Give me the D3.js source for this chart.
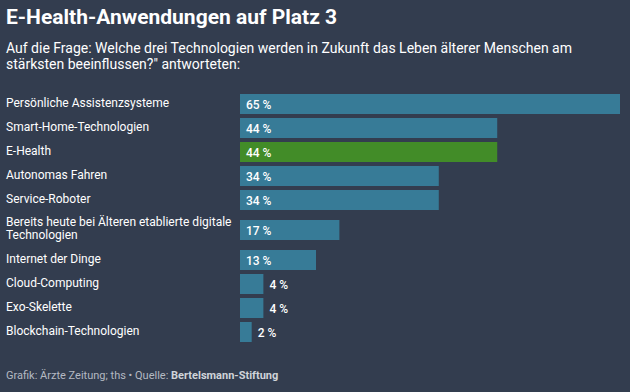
<!DOCTYPE html>
<html><head><meta charset="utf-8">
<script src="https://cdn.jsdelivr.net/npm/d3@7"></script>
<style>
html,body{margin:0;padding:0;background:#333d4f;}
svg{display:block;font-family:Roboto, "Noto Sans", sans-serif;}
</style></head>
<body>
<script>
const categories = [
  ["Persönliche Assistenzsysteme"],
  ["Smart-Home-Technologien"],
  ["E-Health"],
  ["Autonomas Fahren"],
  ["Service-Roboter"],
  ["Bereits heute bei Älteren etablierte digitale", "Technologien"],
  ["Internet der Dinge"],
  ["Cloud-Computing"],
  ["Exo-Skelette"],
  ["Blockchain-Technologien"]
];
const values = [65, 44, 44, 34, 34, 17, 13, 4, 4, 2];
const highlight = ["E-Health"];
const title = "E-Health-Anwendungen auf Platz 3";
const subtitle = ["Auf die Frage: Welche drei Technologien werden in Zukunft das Leben älterer Menschen am", "stärksten beeinflussen?\" antworteten:"];
const footerPlain = "Grafik: Ärzte Zeitung; ths • Quelle: ";
const footerBold = "Bertelsmann-Stiftung";

const W = 630, H = 392;
const svg = d3.select("body").append("svg").attr("width", W).attr("height", H);
svg.append("rect").attr("width", W).attr("height", H).attr("fill", "#333d4f");

svg.append("text").attr("x", 6).attr("y", 23.5).attr("fill", "#ffffff")
  .attr("font-size", 21).attr("font-weight", 700).text(title);
svg.append("text").attr("x", 6).attr("y", 53).attr("fill", "#ffffff").attr("font-size", 14)
  .selectAll("tspan").data(subtitle).join("tspan")
  .attr("x", 6).attr("dy", (d, i) => i ? 15.5 : 0).text(d => d);

// rows: variable height by label line count
const rowBase = 24, lineExtra = 12;
const rows = [];
let y0 = 92;
categories.forEach((c, i) => {
  const h = rowBase + lineExtra * (c.length - 1);
  rows.push({lines: c, name: c.join(" "), value: values[i], top: y0, h: h});
  y0 += h;
});

const x = d3.scaleLinear().domain([0, 65]).range([240, 620]);
const barH = 20;

const g = svg.append("g");
const row = g.selectAll("g.row").data(rows).join("g").attr("class", "row");

row.append("rect")
  .attr("x", x(0))
  .attr("y", d => d.top + d.h / 2 - barH / 2)
  .attr("width", d => x(d.value) - x(0))
  .attr("height", barH)
  .attr("fill", d => highlight.includes(d.name) ? "#428c28" : "#377b97");

row.append("text")
  .attr("fill", "#ffffff").attr("font-size", 12)
  .each(function(d) {
    const c = d.top + d.h / 2;
    const first = c + 2.5 - 6.5 * (d.lines.length - 1);
    d3.select(this).selectAll("tspan").data(d.lines).join("tspan")
      .attr("x", 6).attr("y", (t, i) => first + 13 * i).text(t => t);
  });

row.append("text")
  .attr("fill", "#ffffff").attr("font-size", 12).attr("font-weight", 500)
  .attr("x", d => (x(d.value) - x(0)) > 40 ? x(0) + 6 : x(d.value) + 6)
  .attr("y", d => d.top + d.h / 2 + 4.5)
  .text(d => d.value + " %");

const ft = svg.append("text").attr("x", 6).attr("y", 379).attr("font-size", 11).attr("fill", "#b4b9c2");
ft.append("tspan").text(footerPlain);
ft.append("tspan").attr("font-weight", 700).attr("fill", "#d0d4da").text(footerBold);
</script>
</body></html>
